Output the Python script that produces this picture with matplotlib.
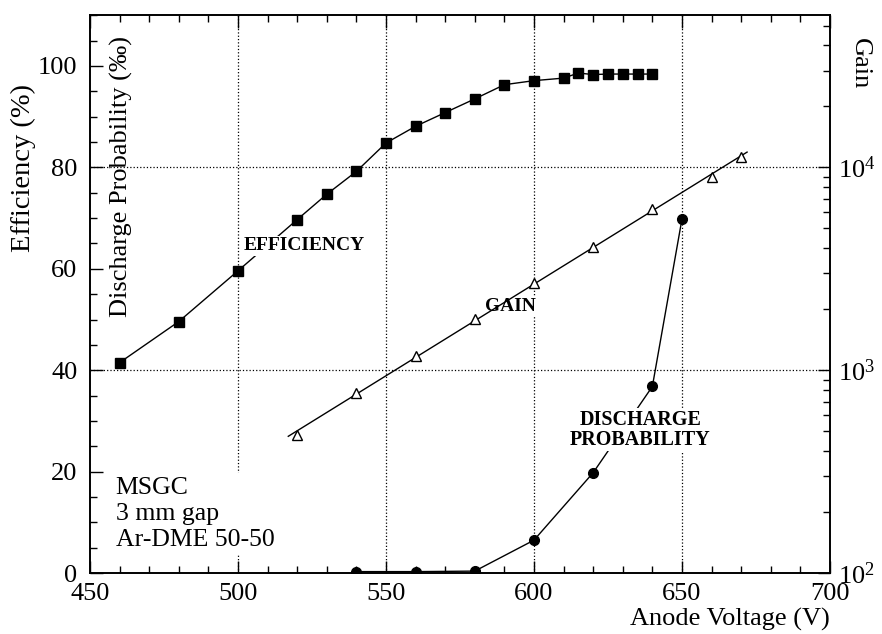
import numpy as np
import matplotlib
matplotlib.use('Agg')
import matplotlib.pyplot as plt
from matplotlib.ticker import MultipleLocator, LogLocator, NullFormatter

plt.rcParams['font.family'] = ['Liberation Serif', 'DejaVu Serif']
plt.rcParams['mathtext.fontset'] = 'stix'

# Data
volt_eff = [460, 480, 500, 520, 530, 540, 550, 560, 570, 580, 590, 600, 610, 615, 620, 625, 630, 635, 640]
eff = [41.5, 49.6, 59.6, 69.7, 74.7, 79.2, 84.8, 88.1, 90.8, 93.5, 96.3, 97.1, 97.6, 98.6, 98.3, 98.4, 98.4, 98.4, 98.4]

volt_gain = [520, 540, 560, 580, 600, 620, 640, 660, 670]
gain = [480, 775, 1180, 1780, 2690, 4060, 6200, 9000, 11300]
gain_fit_range = [517, 672]

volt_dis = [540, 560, 580, 600, 620, 640, 650]
dis = [0.3, 0.3, 0.4, 6.5, 19.8, 36.8, 69.8]

fig = plt.figure(figsize=(8.82, 6.34), dpi=100)
ax = fig.add_axes([0.102, 0.096, 0.839, 0.880])
ax2 = ax.twinx()

# grid lines (dotted)
for v in [500, 550, 600, 650]:
    ax.axvline(v, color='black', ls=':', lw=0.9, zorder=1)
for h in [40, 80]:
    ax.axhline(h, color='black', ls=':', lw=0.9, zorder=1)

# efficiency
ax.plot(volt_eff, eff, color='black', lw=1.0, marker='s', ms=7, zorder=3)
# discharge probability
ax.plot(volt_dis, dis, color='black', lw=1.0, marker='o', ms=7, zorder=3)

# gain: exponential fit line + open triangles
p = np.polyfit(volt_gain, np.log10(gain), 1)
vf = np.array(gain_fit_range)
ax2.plot(vf, 10 ** np.polyval(p, vf), color='black', lw=1.0, zorder=3)
ax2.plot(volt_gain, gain, ls='none', marker='^', ms=7, mfc='white', mec='black', mew=1.0, zorder=4)

ax.set_xlim(450, 700)
ax.set_ylim(0, 110)
ax2.set_yscale('log')
ax2.set_ylim(1e2, 10 ** 4.75)

ax.xaxis.set_major_locator(MultipleLocator(50))
ax.xaxis.set_minor_locator(MultipleLocator(10))
ax.yaxis.set_major_locator(MultipleLocator(20))
ax.yaxis.set_minor_locator(MultipleLocator(5))
ax2.yaxis.set_major_locator(LogLocator(base=10, numticks=10))
ax2.yaxis.set_minor_locator(LogLocator(base=10, subs=np.arange(2, 10), numticks=20))
ax2.yaxis.set_minor_formatter(NullFormatter())

ax.tick_params(axis='both', which='both', direction='in', top=True, labelsize=19, pad=9)
ax.tick_params(axis='x', which='major', pad=7)
ax.tick_params(which='major', length=9, width=1)
ax.tick_params(which='minor', length=5, width=1)
ax2.tick_params(axis='y', which='both', direction='in', labelsize=19, pad=6)
ax2.tick_params(which='major', length=9, width=1)
ax2.tick_params(which='minor', length=5, width=1)

for a in (ax, ax2):
    for s in a.spines.values():
        s.set_linewidth(1.2)

ax.set_xlabel('Anode Voltage (V)', fontsize=19, loc='right', labelpad=2)
fig.text(0.975, 0.899, 'Gain', rotation=-90, fontsize=19, ha='center', va='center')
fig.text(0.026, 0.735, 'Efficiency (%)', rotation=90, fontsize=20.5, ha='center', va='center')
ax.text(0.043, 0.711, 'Discharge Probability (‰)', rotation=90, fontsize=19,
        ha='center', va='center', transform=ax.transAxes)

box = dict(facecolor='white', edgecolor='none', pad=1)
ax.text(502, 64.5, 'EFFICIENCY', fontsize=14, fontweight='bold', ha='left', va='center', bbox=box, zorder=5)
ax.text(592, 52.6, 'GAIN', fontsize=14, fontweight='bold', ha='center', va='center', bbox=box, zorder=5)
ax.text(636, 28.3, 'DISCHARGE\nPROBABILITY', fontsize=14.5, fontweight='bold', ha='center', va='center',
        linespacing=1.0, bbox=box, zorder=5)
ax.text(458.7, 11.7, 'MSGC\n3 mm gap\nAr-DME 50-50', fontsize=18.5, ha='left', va='center',
        linespacing=1.22, bbox=dict(facecolor='white', edgecolor='none', pad=3), zorder=5)

fig.savefig('out.png', dpi=100)
